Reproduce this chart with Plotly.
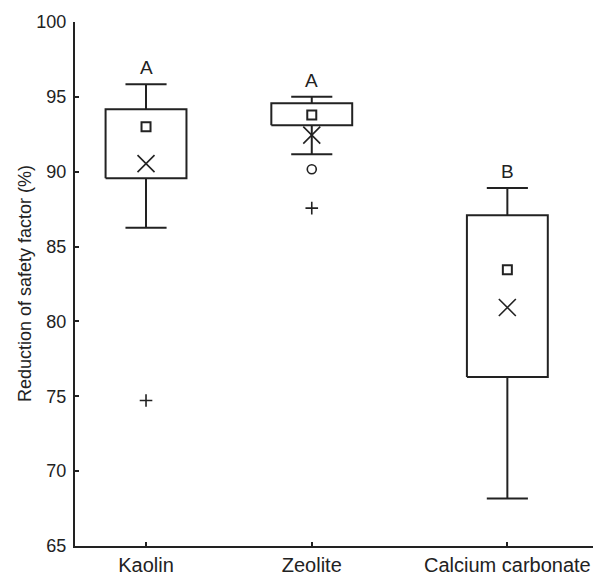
import plotly.graph_objects as go

categories = ["Kaolin", "Zeolite", "Calcium carbonate"]
q1 = [89.56, 93.11, 76.28]
q3 = [94.17, 94.57, 87.10]
whisker_low = [86.25, 91.17, 68.18]
whisker_high = [95.84, 95.00, 88.91]
median = [93.00, 93.78, 83.45]
mean = [90.54, 92.44, 80.93]
outlier_cat = ["Zeolite"]
outlier_val = [90.16]
extreme_cat = ["Kaolin", "Zeolite"]
extreme_val = [74.72, 87.57]
letters = ["A", "A", "B"]
y_ticks = [65, 70, 75, 80, 85, 90, 95, 100]

# axis layout: category centres on a numeric axis
cat_pos = [0, 1, 2.18]
pos = dict(zip(categories, cat_pos))
box_hw = 0.244
cap_hw = 0.124
ink = "#222222"
font = "Liberation Sans, Arial, sans-serif"

bx, by = [], []
wx, wy = [], []
for c, lo, a, b, hi in zip(categories, whisker_low, q1, q3, whisker_high):
    p = pos[c]
    bx += [p - box_hw, p + box_hw, p + box_hw, p - box_hw, p - box_hw, None]
    by += [a, a, b, b, a, None]
    wx += [p, p, None, p - cap_hw, p + cap_hw, None,
           p, p, None, p - cap_hw, p + cap_hw, None]
    wy += [b, hi, None, hi, hi, None, a, lo, None, lo, lo, None]

fig = go.Figure()
fig.add_trace(go.Scatter(x=wx, y=wy, mode="lines",
                         line=dict(color=ink, width=2), hoverinfo="skip"))
fig.add_trace(go.Scatter(x=bx, y=by, mode="lines", fill="toself",
                         fillcolor="white",
                         line=dict(color=ink, width=2), hoverinfo="skip"))
fig.add_trace(go.Scatter(x=[pos[c] for c in categories], y=median,
                         mode="markers", name="Median",
                         marker=dict(symbol="square-open", size=9,
                                     color=ink, line=dict(width=2, color=ink))))
fig.add_trace(go.Scatter(x=[pos[c] for c in categories], y=mean,
                         mode="markers", name="Mean",
                         marker=dict(symbol="x-thin-open", size=17,
                                     color=ink, line=dict(width=1.6, color=ink))))
fig.add_trace(go.Scatter(x=[pos[c] for c in outlier_cat], y=outlier_val,
                         mode="markers", name="Outlier",
                         marker=dict(symbol="circle-open", size=9,
                                     color=ink, line=dict(width=1.6, color=ink))))
fig.add_trace(go.Scatter(x=[pos[c] for c in extreme_cat], y=extreme_val,
                         mode="markers", name="Extreme",
                         marker=dict(symbol="cross-thin-open", size=9,
                                     color=ink, line=dict(width=1.6, color=ink))))

for c, hi, t in zip(categories, whisker_high, letters):
    fig.add_annotation(x=pos[c], y=hi, text=t, showarrow=False,
                       yanchor="bottom", yshift=4,
                       font=dict(family=font, size=19, color=ink))

fig.add_annotation(xref="paper", yref="paper", x=0, y=0.5,
                   xanchor="center", yanchor="middle", xshift=-50,
                   text="Reduction of safety factor (%)", textangle=-90,
                   showarrow=False, font=dict(family=font, size=18, color=ink))

# page body adds an 8px offset; figure sized to fill the 601x576 window
fig.update_layout(
    width=593, height=568,
    margin=dict(l=67, r=0, t=14, b=24),
    paper_bgcolor="white", plot_bgcolor="white",
    showlegend=False,
    font=dict(family=font, color=ink),
)
fig.update_xaxes(
    range=[-0.4285, 2.745], tickvals=cat_pos, ticktext=categories,
    showline=True, linecolor=ink, linewidth=2, showgrid=False, zeroline=False,
    ticks="inside", ticklen=4, tickwidth=1.5, tickcolor=ink,
    tickfont=dict(family=font, size=20, color=ink), ticklabelstandoff=0,
)
fig.update_yaxes(
    range=[65, 100], tickvals=y_ticks,
    showline=True, linecolor=ink, linewidth=2, showgrid=False, zeroline=False,
    ticks="inside", ticklen=4, tickwidth=1.5, tickcolor=ink,
    tickfont=dict(family=font, size=18, color=ink), ticklabelstandoff=3,
)
fig.write_html("out.html")
